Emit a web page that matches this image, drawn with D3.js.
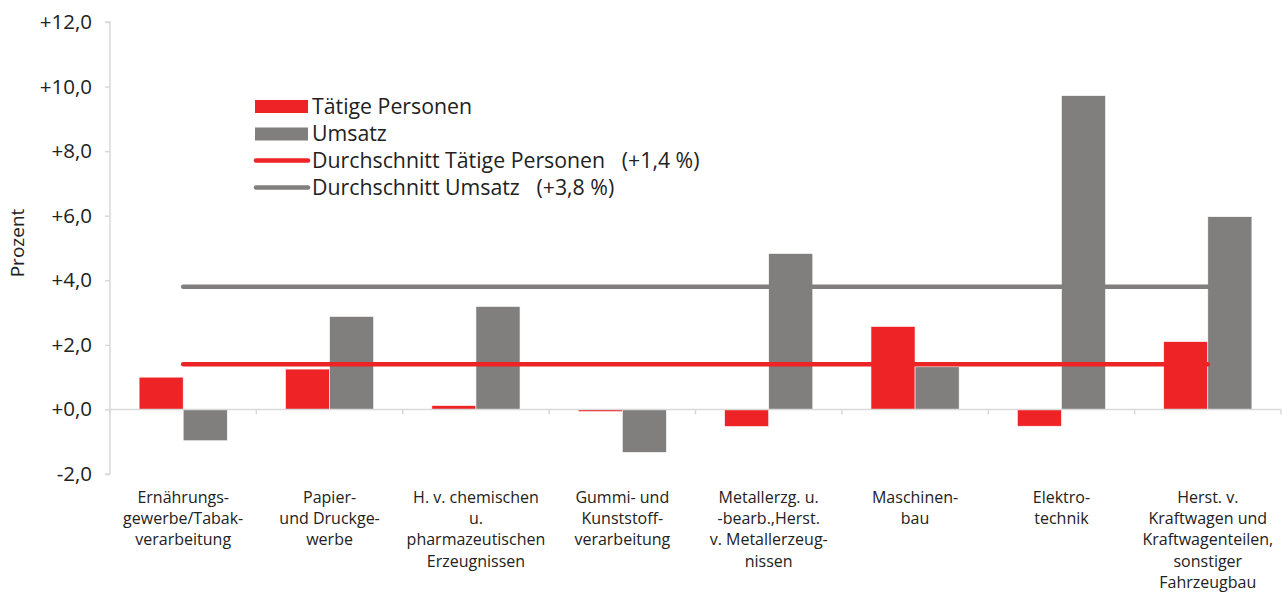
<!DOCTYPE html>
<html>
<head>
<meta charset="utf-8">
<script src="https://cdn.jsdelivr.net/npm/d3@7/dist/d3.min.js"></script>
<style>
  html, body { margin: 0; padding: 0; background: #fff; }
  svg { display: block; font-family: "Open Sans", "Noto Sans", sans-serif; }
</style>
</head>
<body>
<svg id="chart" width="1282" height="595"></svg>
<script>
const categories = [
  ["Ernährungs-", "gewerbe/Tabak-", "verarbeitung"],
  ["Papier-", "und Druckge-", "werbe"],
  ["H. v. chemischen", "u.", "pharmazeutischen", "Erzeugnissen"],
  ["Gummi- und", "Kunststoff-", "verarbeitung"],
  ["Metallerzg. u.", "-bearb.,Herst.", "v. Metallerzeug-", "nissen"],
  ["Maschinen-", "bau"],
  ["Elektro-", "technik"],
  ["Herst. v.", "Kraftwagen und", "Kraftwagenteilen,", "sonstiger", "Fahrzeugbau"]
];
const seriesNames = ["Tätige Personen", "Umsatz"];
const personen = [1.0, 1.25, 0.12, -0.07, -0.53, 2.57, -0.52, 2.1];
const umsatz = [-0.97, 2.88, 3.19, -1.33, 4.83, 1.32, 9.72, 5.97];
const avgPersonen = 1.4;
const avgUmsatz = 3.8;
const yTicks = [-2, 0, 2, 4, 6, 8, 10, 12];
const legendLabels = ["Tätige Personen", "Umsatz", "Durchschnitt Tätige Personen   (+1,4 %)", "Durchschnitt Umsatz   (+3,8 %)"];

const RED = "#ee2326", GREY = "#807f7d", AXIS = "#d9d9d9", TEXT = "#222";
const svg = d3.select("#chart");
const pLeft = 110, pRight = 1281, pTop = 22, pBottom = 474;

const idx = categories.map((d, i) => i);
const x0 = d3.scaleBand().domain(idx).range([pLeft, pRight]).paddingInner(0).paddingOuter(0);
const x1 = d3.scaleBand().domain(seriesNames).range([0, x0.bandwidth()]).paddingInner(0).paddingOuter(0.66);
const y = d3.scaleLinear().domain([-2, 12]).range([pBottom, pTop]);

const fmt = v => (v < 0 ? "-" : "+") + d3.format(".1f")(Math.abs(v)).replace(".", ",");

// Y axis
const yAxis = svg.append("g").attr("transform", `translate(${pLeft},0)`)
  .call(d3.axisLeft(y).tickValues(yTicks).tickFormat(fmt).tickSize(5).tickPadding(13));
yAxis.select(".domain").attr("stroke", AXIS).attr("stroke-width", 1.5).attr("d", `M-5,${pTop}H0V${pBottom}H-5`);
yAxis.selectAll(".tick line").attr("stroke", AXIS).attr("stroke-width", 1.5);
yAxis.selectAll(".tick text").attr("fill", TEXT).style("font-size", "20.5px").style("font-family", "'Open Sans', sans-serif");

svg.append("text").attr("transform", `translate(24,243) rotate(-90)`)
  .attr("text-anchor", "middle").attr("fill", TEXT).style("font-size", "19px").text("Prozent");

// Bars
const data = idx.map(i => ({ i, vals: [{ s: seriesNames[0], v: personen[i] }, { s: seriesNames[1], v: umsatz[i] }] }));
const color = d3.scaleOrdinal().domain(seriesNames).range([RED, GREY]);
svg.append("g").selectAll("g").data(data).join("g")
  .attr("transform", d => `translate(${x0(d.i)},0)`)
  .selectAll("rect").data(d => d.vals).join("rect")
  .attr("x", d => x1(d.s))
  .attr("width", x1.bandwidth())
  .attr("y", d => y(Math.max(0, d.v)))
  .attr("height", d => Math.abs(y(d.v) - y(0)))
  .attr("fill", d => color(d.s))
  .attr("stroke", "#fff").attr("stroke-width", 0.6);

// X axis at zero
const xAxisG = svg.append("g");
xAxisG.append("line").attr("x1", pLeft).attr("x2", pRight).attr("y1", y(0)).attr("y2", y(0))
  .attr("stroke", AXIS).attr("stroke-width", 1.5);
const bounds = idx.map(i => x0(i)).concat([pRight]);
xAxisG.selectAll("line.t").data(bounds).join("line").attr("class", "t")
  .attr("x1", d => d).attr("x2", d => d).attr("y1", y(0)).attr("y2", y(0) + 5)
  .attr("stroke", AXIS).attr("stroke-width", 1.5);

// Category labels
const labG = svg.append("g");
categories.forEach((lines, i) => {
  const t = labG.append("text").attr("text-anchor", "middle").attr("fill", TEXT).style("font-size", "16px");
  lines.forEach((ln, j) => {
    t.append("tspan").attr("x", x0(i) + x0.bandwidth() / 2).attr("y", 503 + j * 21.2).text(ln);
  });
});

// Average lines
const xs = x0(idx[0]) + x0.bandwidth() / 2, xe = x0(idx[idx.length - 1]) + x0.bandwidth() / 2;
[[avgUmsatz, GREY], [avgPersonen, RED]].forEach(([v, c]) => {
  svg.append("line").attr("x1", xs).attr("x2", xe).attr("y1", y(v)).attr("y2", y(v))
    .attr("stroke", c).attr("stroke-width", 4.5).attr("stroke-linecap", "round");
});

// Legend
const lg = svg.append("g");
const rows = [106.5, 134, 160.5, 187.5];
legendLabels.forEach((lab, k) => {
  const cy = rows[k];
  if (k < 2) {
    lg.append("rect").attr("x", 255).attr("y", cy - 6.5).attr("width", 53).attr("height", 13)
      .attr("fill", k === 0 ? RED : GREY);
  } else {
    lg.append("line").attr("x1", 256).attr("x2", 308).attr("y1", cy).attr("y2", cy)
      .attr("stroke", k === 2 ? RED : GREY).attr("stroke-width", 4.5).attr("stroke-linecap", "round");
  }
  lg.append("text").attr("x", 312).attr("y", cy + 7).attr("fill", TEXT)
    .style("font-size", "21.3px").style("white-space", "pre").attr("xml:space", "preserve").text(lab);
});
</script>
</body>
</html>
